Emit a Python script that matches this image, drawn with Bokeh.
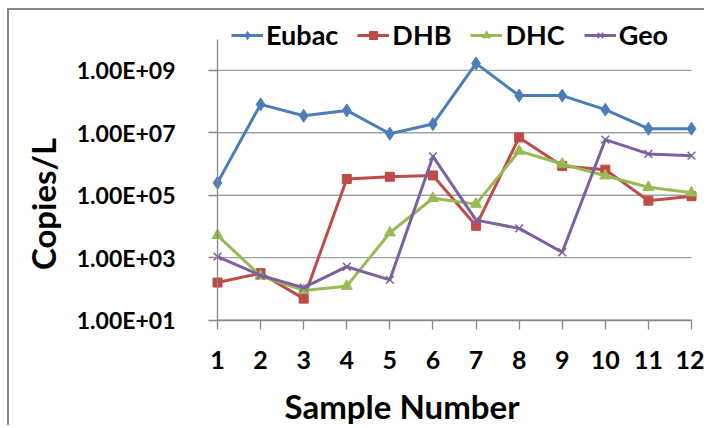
import math
from bokeh.plotting import figure
from bokeh.models import (Range1d, FixedTicker, CustomJSTickFormatter, Legend, LegendItem,
                          Label, ColumnDataSource)
from bokeh.embed import file_html
from bokeh.resources import INLINE

# ---- data ----
samples = [1, 2, 3, 4, 5, 6, 7, 8, 9, 10, 11, 12]
eubac = [2.5e5, 8.1e7, 3.5e7, 5.2e7, 9.3e6, 1.9e7, 1.66e9, 1.55e8, 1.55e8, 5.5e7, 1.35e7, 1.35e7]
dhb = [160, 320, 49, 3.3e5, 3.9e5, 4.3e5, 1.05e4, 7.1e6, 8.7e5, 6.6e5, 6.7e4, 9.3e4]
dhc = [5.2e3, 260, 90, 123, 6.3e3, 8.0e4, 5.2e4, 2.6e6, 1.0e6, 4.2e5, 1.8e5, 1.2e5]
geo = [1.08e3, 270, 110, 515, 196, 1.75e6, 1.6e4, 8.7e3, 1.5e3, 6.0e6, 2.1e6, 1.85e6]
series_names = ["Eubac", "DHB", "DHC", "Geo"]
y_ticks = [1e1, 1e3, 1e5, 1e7, 1e9]
y_min, y_max = 1e1, 1e10
x_title = "Sample Number"
y_title = "Copies/L"

colors = ["#4A7EBB", "#BE4B48", "#98B954", "#7D60A0"]
markers = ["diamond", "square", "triangle", "x"]
msizes = [13, 9, 11, 11]
FONT = "Lato"
GRAY = "#888888"

# ---- layout: the frame covers the whole canvas; axes sit at fixed locations ----
W, H = 697, 417
plot_left, plot_right = 208, 682       # canvas px of x = 1 and x = 12
plot_bottom = 309.7                    # canvas px (from top) of y = 1e1
px_per_decade = 31.24
ux = (plot_right - plot_left) / (samples[-1] - samples[0])
x_start = samples[0] - plot_left / ux
x_end = samples[-1] + (W - plot_right) / ux
ly0 = math.log10(y_min)
y_start = 10 ** (ly0 - (H - plot_bottom) / px_per_decade)
y_end = 10 ** (ly0 + plot_bottom / px_per_decade)

p = figure(width=W, height=H, output_backend="svg", toolbar_location=None,
           y_axis_type="log", x_range=Range1d(x_start, x_end), y_range=Range1d(y_start, y_end),
           min_border_left=0, min_border_right=0, min_border_top=0, min_border_bottom=0)
p.title.visible = False
p.margin = (8, 0, 0, 7)
p.styles = {"border-left": "2px solid #898989", "border-top": "2px solid #898989"}
p.outline_line_color = None
p.background_fill_color = "white"
p.xgrid.grid_line_color = None
p.ygrid.grid_line_color = None

# horizontal gridlines between first and last sample
p.segment(x0=[samples[0]] * len(y_ticks), x1=[samples[-1]] * len(y_ticks),
          y0=y_ticks, y1=y_ticks, line_color="#A0A0A0", line_width=1.3)

items = []
for name, vals, col, mk, ms in zip(series_names, [eubac, dhb, dhc, geo], colors, markers, msizes):
    src = ColumnDataSource(dict(x=samples, y=vals))
    r1 = p.line("x", "y", source=src, line_color=col, line_width=3)
    if mk == "x":
        r2 = p.scatter("x", "y", source=src, marker=mk, size=ms, line_color=col, line_width=1.5)
    else:
        r2 = p.scatter("x", "y", source=src, marker=mk, size=ms, fill_color=col, line_color=col)
    items.append(LegendItem(label=name, renderers=[r1, r2]))

# axes
p.xaxis.fixed_location = y_min
p.yaxis.fixed_location = samples[0]
p.xaxis.bounds = (samples[0], samples[-1])
p.yaxis.bounds = (y_min, y_max)
p.xaxis.ticker = FixedTicker(ticks=samples)
p.yaxis.ticker = FixedTicker(ticks=y_ticks)
p.yaxis.formatter = CustomJSTickFormatter(code="""
const parts = tick.toExponential(2).split('e');
const n = parseInt(parts[1]);
return parts[0] + 'E' + (n < 0 ? '-' : '+') + String(Math.abs(n)).padStart(2, '0');
""")
for ax in (p.xaxis[0], p.yaxis[0]):
    ax.axis_line_color = GRAY
    ax.axis_line_width = 1.3
    ax.major_tick_line_color = GRAY
    ax.major_tick_line_width = 1.3
    ax.major_tick_out = 9
    ax.major_tick_in = 0
    ax.minor_tick_line_color = None
    ax.major_label_text_font = FONT
    ax.major_label_text_font_style = "bold"
    ax.major_label_text_color = "black"
p.xaxis.major_label_text_font_size = "25px"
p.yaxis.major_label_text_font_size = "23px"
p.xaxis.major_label_standoff = 22
p.yaxis.major_label_standoff = 33

# axis titles
p.add_layout(Label(x=392.5, y=22, x_units="screen", y_units="screen", text=x_title,
                   text_align="center", text_baseline="alphabetic",
                   text_font=FONT, text_font_style="bold", text_font_size="33px",
                   text_color="black"))
p.add_layout(Label(x=33, y=223.5, x_units="screen", y_units="screen", text=y_title,
                   angle=math.pi / 2, text_align="center", text_baseline="alphabetic",
                   text_font=FONT, text_font_style="bold", text_font_size="33px",
                   text_color="black"))

legend = Legend(items=items, orientation="horizontal", location=(222, 376),
                glyph_width=32, glyph_height=20, label_standoff=3, spacing=19,
                padding=0, margin=0, border_line_color=None, background_fill_alpha=0,
                label_text_font=FONT, label_text_font_style="bold", label_text_font_size="27px",
                label_text_color="black", label_height=20)
p.add_layout(legend, "center")

open("out.html", "w").write(file_html(p, INLINE))
